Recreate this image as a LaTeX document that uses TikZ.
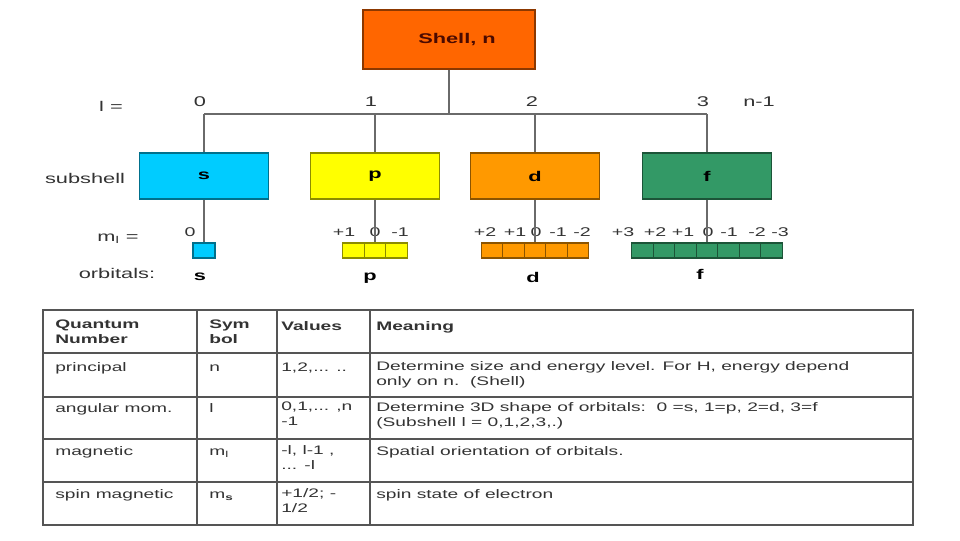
\documentclass[tikz,border=0pt]{standalone}
\usepackage{fontspec}
\setmainfont[FakeStretch=1.55]{Liberation Sans}
\usepackage{xcolor}
\usetikzlibrary{positioning}
\definecolor{shellorange}{HTML}{FF6600}
\definecolor{shelltext}{HTML}{4A0A00}
\definecolor{scyan}{HTML}{00CCFF}
\definecolor{pyellow}{HTML}{FFFF00}
\definecolor{dorange}{HTML}{FF9900}
\definecolor{fgreen}{HTML}{339966}
\definecolor{wire}{HTML}{6A6A6A}
\definecolor{ink}{HTML}{333333}
\definecolor{tabline}{HTML}{555555}

\begin{document}
\begin{tikzpicture}[
  x=0.025cm, y=-0.025cm,
  lbl/.style={text=ink, font=\fontsize{10}{12}\selectfont, inner sep=0pt},
  num/.style={text=ink, font=\fontsize{9}{11}\selectfont, inner sep=0pt},
  subbox/.style={draw=#1!55!black, fill=#1, line width=0.9pt, minimum width=3.225cm,
    minimum height=1.15cm, inner sep=0pt, font=\bfseries\fontsize{10}{12}\selectfont},
  cell/.style={draw=#1!55!black, fill=#1, line width=0.9pt, minimum width=0.5375cm,
    minimum height=0.375cm, inner sep=0pt},
  orb/.style={font=\bfseries\fontsize{10}{12}\selectfont, inner sep=0pt},
  wireline/.style={draw=wire, line width=1.4pt},
  tab/.style={draw=tabline, line width=0.8pt},
  cellt/.style={anchor=north west, align=left, inner sep=0pt, text=ink,
    font=\fontsize{8.8}{10.5}\selectfont, execute at begin node=\strut},
  headt/.style={cellt, font=\bfseries\fontsize{8.8}{10.5}\selectfont}
]
\useasboundingbox (0,0) rectangle (960,540);

\node[subbox=shellorange, minimum width=4.3cm, minimum height=1.475cm, text=shelltext] (shell) at (449,39.5) {\hspace*{0.4cm}Shell, n};
\node[subbox=scyan]   (s) at (204,176) {s};
\node[subbox=pyellow] (p) at (375,176) {p};
\node[subbox=dorange] (d) at (535,176) {d};
\node[subbox=fgreen]  (f) at (707,176) {f};

\node[lbl] (lrow)   at (111,106) {l =};
\node[lbl] (subrow) at (85,178)  {subshell};
\node[lbl] (mrow)   at (118,239) {m\textsubscript{l} =};
\node[lbl] (orow)   at (117,273) {orbitals:};

\node[lbl] (l0) at (200,102) {0};
\node[lbl] (l1) at (371,102) {1};
\node[lbl] (l2) at (532,102) {2};
\node[lbl] (l3) at (703,102) {3};
\node[lbl] (ln) at (759,102) {n-1};

\node[cell=scyan, minimum width=0.55cm] (s1) at (204,250.5) {};
\foreach \i in {1,2,3}
  \node[cell=pyellow] (p\i) at ({375+(\i-2)*21.5},250.5) {};
\foreach \i in {1,...,5}
  \node[cell=dorange] (d\i) at ({535+(\i-3)*21.5},250.5) {};
\foreach \i in {1,...,7}
  \node[cell=fgreen] (f\i) at ({707+(\i-4)*21.5},250.5) {};

\node[num] (ms1) at (190,232) {0};
\foreach \v/\x [count=\k] in {+1/344, 0/375, -1/400}
  \node[num] (mp\k) at (\x,232) {\v};
\foreach \v/\x [count=\k] in {+2/485, +1/515, 0/536, -1/558, -2/582}
  \node[num] (md\k) at (\x,232) {\v};
\foreach \v/\x [count=\k] in {+3/623, +2/655, +1/683, 0/708, -1/729, -2/757, -3/780}
  \node[num] (mf\k) at (\x,232) {\v};

\coordinate (bus) at (449,114);
\draw[wireline] (shell.south) -- (bus);
\draw[wireline] (s.north |- bus) -- (f.north |- bus);
\foreach \n in {s,p,d,f}
  \draw[wireline] (\n.north |- bus) -- (\n.north);
\draw[wireline] (s.south) -- (s1.north);
\draw[wireline] (p.south) -- (p2.north);
\draw[wireline] (d.south) -- (d3.north);
\draw[wireline] (f.south) -- (f4.north);

\node[orb] (os) at (200,277) {s};
\node[orb] (op) at (370,278) {p};
\node[orb] (od) at (533,277) {d};
\node[orb] (of) at (700,274) {f};

\draw[tab] (43,310) rectangle (913,525);
\draw[draw=tabline, line width=1.4pt] (43,310) -- (43,525);
\foreach \x in {197,277,370}
  \draw[tab] (\x,310) -- (\x,525);
\foreach \y in {353,397,439,482}
  \draw[tab] (43,\y) -- (913,\y);

\node[headt] (hq) at (55,320)  {Quantum\\Number};
\node[headt] (hs) at (209,320) {Sym\\bol};
\node[headt] (hv) at (281,320) {Values};
\node[headt] (hm) at (376,320) {Meaning};

\node[cellt] (q1) at (55,361)  {principal};
\node[cellt] (y1) at (209,361) {n};
\node[cellt] (v1) at (281,361) {1,2,... ..};
\node[cellt] (e1) at (376,361) {Determine size and energy level. For H, energy depend\\only on n.\ \ (Shell)};

\node[cellt] (q2) at (55,402)  {angular mom.};
\node[cellt] (y2) at (209,402) {l};
\node[cellt] (v2) at (281,402) {0,1,... ,n\\-1};
\node[cellt] (e2) at (376,402) {Determine 3D shape of orbitals:\ \ 0 =s, 1=p, 2=d, 3=f\\(Subshell l = 0,1,2,3,.)};

\node[cellt] (q3) at (55,445)  {magnetic};
\node[cellt] (y3) at (209,445) {m\textsubscript{l}};
\node[cellt] (v3) at (281,445) {-l, l-1 ,\\... -l};
\node[cellt] (e3) at (376,445) {Spatial orientation of orbitals.};

\node[cellt] (q4) at (55,488)  {spin magnetic};
\node[cellt] (y4) at (209,488) {m\textsubscript{\bfseries s}};
\node[cellt] (v4) at (281,488) {+1/2; -\\1/2};
\node[cellt] (e4) at (376,488) {spin state of electron};
\end{tikzpicture}
\end{document}
